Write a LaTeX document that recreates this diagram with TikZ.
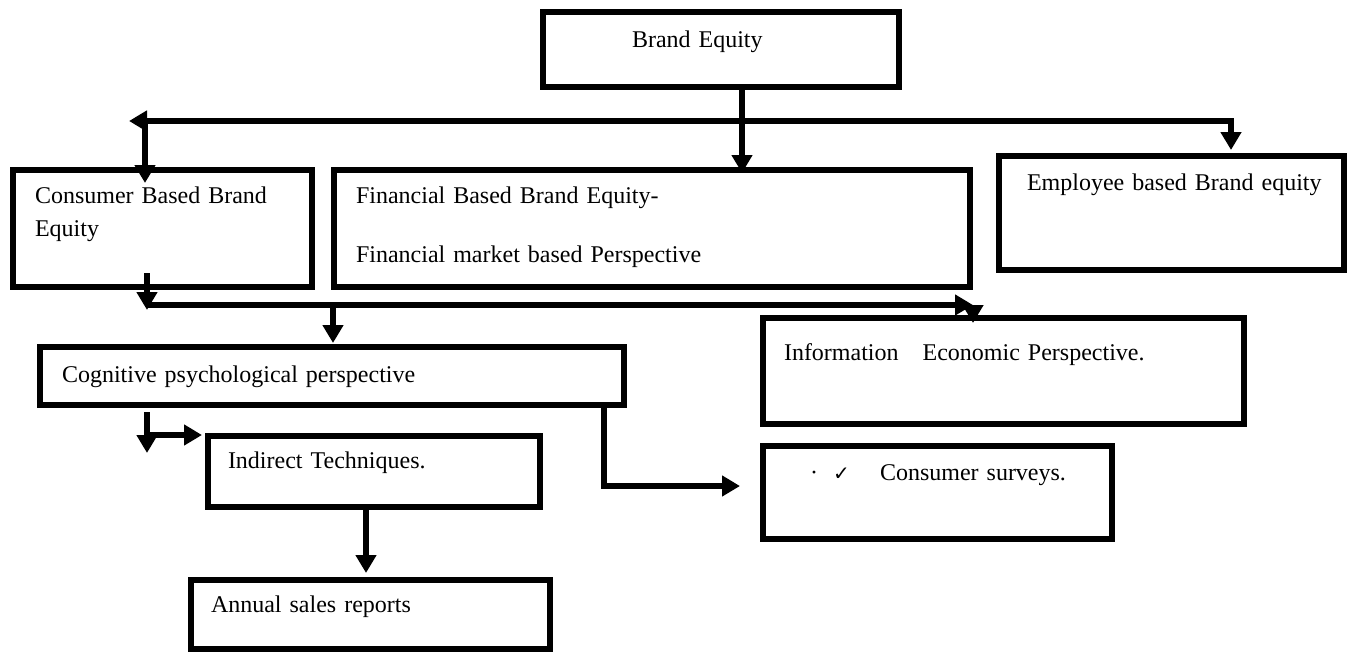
\documentclass[tikz,border=0pt]{standalone}
\usepackage{fontspec}
\setmainfont{Liberation Serif}
\newfontfamily\symfont{DejaVu Sans}
\usetikzlibrary{arrows.meta,calc}
\tikzset{box/.style={draw, line width=3pt, rectangle, anchor=north west, inner sep=0pt, outer sep=0pt, align=left, font=\fontsize{12}{16.5}\selectfont},
  lpad/.style={execute at begin node={\leftskip=#1}},
  arr/.style={line width=3pt, -{Triangle[length=9pt,width=10pt]}},
  both/.style={line width=3pt, {Triangle[length=9pt,width=10pt]}-{Triangle[length=9pt,width=10pt]}}}

\begin{document}
\begin{tikzpicture}[x=0.5pt,y=-0.5pt]
    \useasboundingbox (0,0) rectangle (1349,653);
    \node[box,lpad=44.5pt,text width=178pt,text height=17.5pt,text depth=20pt] (BE) at (543,12) {Brand Equity};
    \node[box,lpad=11pt,text width=149.5pt,text height=16.5pt,text depth=42pt] (CB) at (13,170) {Consumer Based Brand\\Equity};
    \node[box,lpad=11pt,text width=318pt,text height=16.5pt,text depth=42pt] (FB) at (334,170) {Financial Based Brand Equity-\\[13pt]Financial market based Perspective};
    \node[box,lpad=14pt,text width=172.5pt,text height=17pt,text depth=40pt] (EB) at (999,156) {Employee based Brand equity};
    \node[box,lpad=11pt,text width=292pt,text height=17.5pt,text depth=11.5pt] (CP) at (40,347) {Cognitive psychological perspective};
    \node[box,lpad=10.5pt,text width=240.5pt,text height=21pt,text depth=32pt] (IE) at (763,318) {Information\quad Economic Perspective.};
    \node[box,lpad=10pt,text width=166pt,text height=16pt,text depth=19.5pt] (IT) at (208,436) {Indirect Techniques.};
    \node[box,lpad=23.5pt,text width=174.5pt,text height=17pt,text depth=29.5pt] (CS) at (763,446) {\makebox[11.5pt][l]{·}\makebox[23.5pt][l]{\symfont\fontsize{10}{10}\selectfont ✓}Consumer surveys.};
    \node[box,lpad=10pt,text width=179.5pt,text height=16pt,text depth=18.5pt] (AS) at (191,580) {Annual sales reports};
    \coordinate (J1) at (129,121);
    \coordinate (J2) at (1231,121);
    \coordinate (J3) at (145,121);
    \coordinate (J4) at (742,121);
    \coordinate (K1) at (147,305);
    \coordinate (K2) at (973,305);
    \coordinate (K3) at (333,305);
    \coordinate (L1) at (147,435);
    \coordinate (L2) at (604,486);
    \coordinate (L3) at (366,545);
    \draw[arr,shorten >=-1.5pt] (BE.south -| J4) -- (J4 |- FB.north);
    \draw[both,shorten >=3pt] (J1) -- (J2) -- (J2 |- EB.north);
    \draw[arr,shorten >=-6.5pt] (J3) -- (J3 |- CB.north);
    \draw[arr,shorten <=-7pt] (K1 |- CB.south) -- ($(K1)+(0,5)$);
    \draw[arr] (K1) -- (K2);
    \draw[arr,shorten >=-2.5pt] (K2) -- (K2 |- IE.north);
    \draw[arr,shorten >=2pt] (K3) -- (K3 |- CP.north);
    \draw[arr,shorten <=3.5pt] (L1 |- CP.south) -- ($(L1)+(0,18)$);
    \draw[arr,shorten >=3pt] (L1) -- (L1 -| IT.west);
    \draw[arr,shorten >=11.5pt] (CP.south -| L2) -- (L2) -- (L2 -| CS.west);
    \draw[arr,shorten >=3.5pt] (IT.south -| L3) -- (L3 |- AS.north);
\end{tikzpicture}
\end{document}
